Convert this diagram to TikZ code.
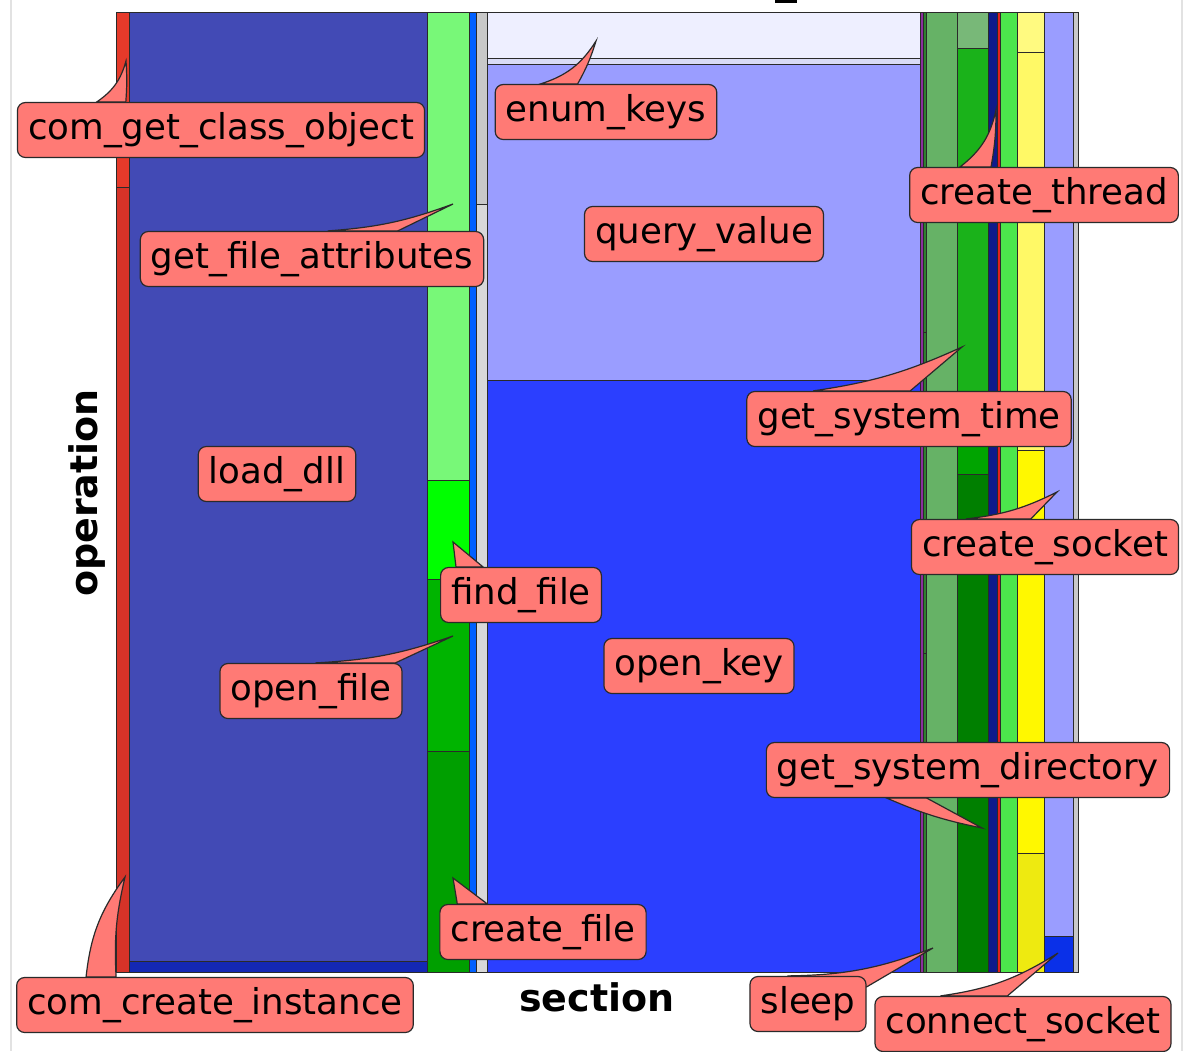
\documentclass[tikz,border=0pt]{standalone}
\usepackage{fontspec}
\setmainfont{DejaVu Sans}
\usepackage{tikz}
\usetikzlibrary{%
  positioning,%
  calc,%
  shapes.misc%
}
\pgfdeclarelayer{cells}
\pgfdeclarelayer{tails}
\pgfsetlayers{cells,tails,main}

\definecolor{lblfill}{RGB}{255,122,117}
\definecolor{edgegray}{RGB}{42,42,42}
\definecolor{chrome}{RGB}{226,226,226}

\begin{document}
\begin{tikzpicture}
  [
  x=0.5pt, y=-0.5pt,
  cell/.style={draw=edgegray, line width=0.5pt},
  lbl/.style={rectangle, rounded corners=4pt, fill=lblfill, draw=edgegray, line width=0.6pt,
    font=\fontsize{17.8}{21}\selectfont, inner xsep=5.3pt, inner ysep=5pt,
    text height=13.3pt, text depth=4.2pt},
  tail/.style={fill=lblfill, draw=edgegray, line width=0.6pt},
  axislbl/.style={font=\fontsize{19}{23}\selectfont\bfseries}
  ]
\useasboundingbox (0,0) rectangle (1190,1051);

% window edges and cut title
\draw[chrome, line width=1pt] (11,0) -- (11,1051);
\draw[chrome, line width=1pt] (1182,0) -- (1182,1051);
\fill (775,0) rectangle (797,3);

% mosaic cells
\begin{pgfonlayer}{cells}
\foreach \xa/\ya/\xb/\yb/\c in {
  116/12/129/187/E63A2A, 116/187/129/972/D63328,
  129/12/427/961/424AB5, 129/961/427/972/1428B4,
  427/12/469/480/78F878, 427/480/469/579/00FF00, 427/579/469/751/00B400, 427/751/469/972/009F00,
  469/12/476/972/0060FF,
  476/12/487/204/C8C8C8, 476/204/487/972/D8D8D8,
  487/12/920/58/EEEFFF, 487/58/920/64/D9DBF5, 487/64/920/380/9A9DFF, 487/380/920/972/2B3FFF,
  920/12/923/972/8B2E9E,
  923/12/926/332/2F7F2F, 923/332/926/653/2F7F2F, 923/653/926/972/2F7F2F,
  926/12/957/972/66B266,
  957/12/988/48/78B878, 957/48/988/420/1AB21A, 957/420/988/474/00A400, 957/474/988/972/007F00,
  988/12/997/972/0E1A8C,
  997/12/1000/972/E02020,
  1000/12/1017/972/4CE64C,
  1017/12/1044/52/FFFA80, 1017/52/1044/450/FFF966, 1017/450/1044/853/FFF800, 1017/853/1044/972/EEEA10,
  1044/12/1073/936/9A9DFF, 1044/936/1073/972/0A30E8,
  1073/12/1078/972/C8C8C8} {
  \definecolor{cellcol}{HTML}{\c}
  \filldraw[cell, fill=cellcol] (\xa,\ya) rectangle (\xb,\yb);
}
\end{pgfonlayer}

% axis titles
\node[axislbl] (xtitle) at (597,997) {section};
\node[axislbl, rotate=90] (ytitle) at (87,493) {operation};

% labels
\node[lbl] (getclass) at (221,130) {com\_get\_class\_object};
\node[lbl] (fileattr) at (312,259) {get\_file\_attributes};
\node[lbl] (enumkeys) at (606,112) {enum\_keys};
\node[lbl] (queryval) at (704,234) {query\_value};
\node[lbl] (loaddll) at (277,474) {load\_dll};
\node[lbl] (findfile) at (521,595) {find\_file};
\node[lbl] (openfile) at (311,691) {open\_file};
\node[lbl] (openkey) at (699,666) {open\_key};
\node[lbl] (createfile) at (543,932) {create\_file};
\node[lbl] (cocreate) at (215,1005) {com\_create\_instance};
\node[lbl] (createthr) at (1044,195) {create\_thread};
\node[lbl] (systime) at (909,419) {get\_system\_time};
\node[lbl] (createsock) at (1045,547) {create\_socket};
\node[lbl] (sysdir) at (968,770) {get\_system\_directory};
\node[lbl] (sleepbox) at (808,1004) {sleep};
\node[lbl] (connsock) at (1023,1024) {connect\_socket};

% pointer tips
\coordinate (tGetClass) at (126,61);
\coordinate (tFileAttr) at (453,204);
\coordinate (tEnumKeys) at (596,41);
\coordinate (tFindFile) at (453,542);
\coordinate (tOpenFile) at (453,636);
\coordinate (tCreateFile) at (453,878);
\coordinate (tCoCreate) at (125,877);
\coordinate (tCreateThr) at (996,110);
\coordinate (tSysTime) at (962,347);
\coordinate (tCreateSock) at (1057,492);
\coordinate (tSysDir) at (982,828);
\coordinate (tSleep) at (933,948);
\coordinate (tConnSock) at (1058,953);

% wedges behind the labels
\begin{pgfonlayer}{tails}
\draw[tail] ($(getclass.north west)+(80,0)$) to[bend right=20] (tGetClass) to[bend left=4] ($(getclass.north west)+(109,0)$) -- cycle;
\draw[tail] ($(fileattr.north west)+(188,0)$) to[bend right=8] (tFileAttr) -- ($(fileattr.north west)+(258,0)$) -- cycle;
\draw[tail] ($(enumkeys.north west)+(46,0)$) to[bend right=20] (tEnumKeys) to[bend left=6] ($(enumkeys.north west)+(83,0)$) -- cycle;
\draw[tail] ($(findfile.north west)+(16,0)$) -- (tFindFile) -- ($(findfile.north west)+(43,0)$) -- cycle;
\draw[tail] ($(openfile.north west)+(96,0)$) to[bend right=8] (tOpenFile) -- ($(openfile.north west)+(176,0)$) -- cycle;
\draw[tail] ($(createfile.north west)+(18,0)$) -- (tCreateFile) -- ($(createfile.north west)+(48,0)$) -- cycle;
\draw[tail] ($(cocreate.north west)+(70,0)$) to[bend left=15] (tCoCreate) to[bend right=8] ($(cocreate.north west)+(100,0)$) -- cycle;
\draw[tail] ($(createthr.north west)+(51,0)$) to[bend right=20] (tCreateThr) to[bend left=5] ($(createthr.north west)+(82,0)$) -- cycle;
\draw[tail] ($(systime.north west)+(67,0)$) to[bend right=8] (tSysTime) -- ($(systime.north west)+(164,0)$) -- cycle;
\draw[tail] ($(createsock.north west)+(55,0)$) to[bend right=10] (tCreateSock) -- ($(createsock.north west)+(120,0)$) -- cycle;
\draw[tail] ($(sysdir.south west)+(121,0)$) to[bend right=6] (tSysDir) -- ($(sysdir.south west)+(161,0)$) -- cycle;
\draw[tail] ($(sleepbox.north west)+(38,0)$) to[bend right=10] (tSleep) -- ($(sleepbox.north east)+(0,11)$) -- cycle;
\draw[tail] ($(connsock.north west)+(66,0)$) to[bend right=12] (tConnSock) -- ($(connsock.north west)+(133,0)$) -- cycle;
\end{pgfonlayer}

\end{tikzpicture}
\end{document}
